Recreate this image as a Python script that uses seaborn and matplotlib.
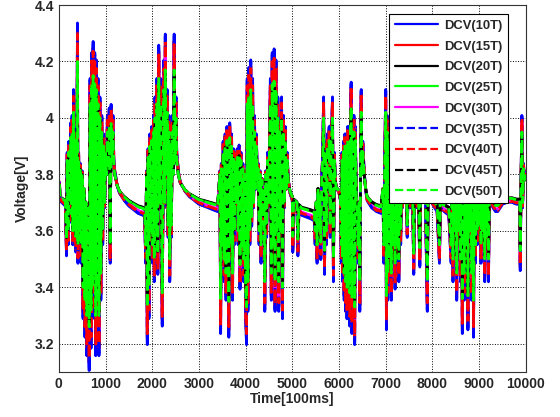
import matplotlib
matplotlib.use("Agg")
import matplotlib.pyplot as plt
import seaborn as sns
import numpy as np
import pandas as pd

# base (DCV 25T) voltage: time [100ms] / voltage [V]
t_pts = [
    0, 15, 25, 60, 100, 140,
    165, 180, 200, 215, 240, 255, 270, 285, 300, 315, 330, 350, 365, 385,
    400, 410, 425, 445, 460, 480, 500, 520, 540, 560, 580, 600, 620, 650,
    670, 690, 705, 720, 735, 750, 770, 790, 805, 820, 840, 860, 880, 900,
    920, 940, 960, 980, 1000, 1020, 1040, 1060, 1080, 1100, 1120, 1140,
    1160, 1180,
    1200, 1250, 1300, 1400, 1500, 1600, 1700, 1800, 1840,
    1860, 1880, 1895, 1910, 1930, 1950, 1970, 1990, 2010, 2030, 2045, 2060,
    2080, 2100, 2120, 2140, 2160, 2180, 2200, 2215, 2235, 2250, 2265, 2280,
    2300, 2320, 2340, 2360, 2375, 2395, 2410, 2430, 2450, 2470, 2490, 2510,
    2525,
    2560, 2600, 2700, 2800, 2900, 3000, 3100, 3200, 3300, 3400,
    3450, 3465, 3480, 3500, 3520, 3540, 3560, 3580, 3600, 3620, 3640, 3660,
    3680, 3700, 3720, 3740, 3760, 3780, 3800, 3820, 3840, 3860, 3880, 3900,
    3920, 3940, 3960, 3980, 4000, 4020, 4035, 4050, 4070, 4090, 4110, 4130,
    4150, 4170, 4190, 4210, 4230, 4250, 4270, 4290, 4310, 4330, 4350, 4370,
    4390, 4410, 4430, 4450, 4470, 4490, 4510, 4530, 4550, 4570, 4590, 4610,
    4630, 4650, 4670, 4690, 4710, 4730, 4750, 4770, 4790, 4810, 4830, 4850,
    4870, 4890, 4910,
    4950, 5000, 5010, 5030, 5100, 5120, 5140, 5200, 5300, 5400, 5470,
    5490, 5510, 5530, 5550, 5570, 5590, 5610, 5630, 5650, 5670, 5690, 5710,
    5730, 5750, 5770, 5790, 5810, 5830, 5850, 5860, 5880, 5900, 5920, 5940,
    5960, 6000, 6030,
    6050, 6065, 6080, 6095, 6110, 6125, 6140, 6155, 6170, 6185, 6200, 6215,
    6230, 6245, 6260, 6275, 6290, 6305, 6320, 6335, 6350, 6370, 6390, 6410,
    6430, 6445, 6460, 6475, 6490, 6510, 6530, 6550, 6570,
    6600, 6700, 6800, 6900,
    6940, 6960, 6980, 7000, 7015, 7030, 7045, 7060, 7080, 7100, 7120, 7140,
    7160, 7180, 7200, 7220, 7240, 7260, 7280, 7300, 7320, 7340, 7360, 7380,
    7400, 7430, 7460, 7500, 7530, 7560, 7600, 7620, 7650, 7680, 7700, 7730,
    7750, 7780, 7810, 7850, 7890, 7910, 7940, 7970, 8000,
    8050, 8100, 8150, 8170, 8250, 8350,
    8400, 8420, 8440, 8460, 8480, 8500, 8520, 8540, 8560, 8580, 8600, 8620,
    8640, 8660, 8680, 8700, 8720, 8740, 8760, 8780, 8800, 8820, 8840, 8860,
    8880, 8900, 8920, 8940, 8960, 8980, 9000, 9020, 9040, 9060, 9080, 9100,
    9120, 9140, 9160, 9180, 9200, 9220, 9240,
    9300, 9350, 9400, 9450, 9500, 9600, 9700, 9800, 9870, 9880, 9900, 9915,
    9930, 9950, 9970, 10000,
]
v_pts = [
    3.73, 3.77, 3.72, 3.715, 3.71, 3.705,
    3.57, 3.85, 3.60, 3.88, 3.70, 3.93, 3.66, 3.95, 3.60, 4.02, 3.62, 3.92, 3.58, 3.80,
    4.20, 3.55, 3.85, 3.60, 3.82, 3.55, 3.80, 3.40, 3.75, 3.35, 3.70, 3.30, 3.68, 3.26,
    4.05, 3.32, 4.12, 3.40, 4.15, 3.45, 4.12, 3.30, 4.10, 3.35, 4.05, 3.30, 4.00, 3.45,
    3.95, 3.60, 3.90, 3.70, 3.88, 3.80, 3.95, 3.82, 3.97, 3.55, 3.98, 3.85,
    3.95, 3.82,
    3.80, 3.76, 3.74, 3.72, 3.705, 3.695, 3.685, 3.68, 3.675,
    3.55, 3.80, 3.33, 3.86, 3.40, 3.90, 3.60, 3.92, 3.55, 3.95, 3.50, 4.00,
    3.60, 4.05, 3.52, 4.14, 3.70, 4.05, 3.62, 3.38, 3.85, 4.10, 3.70, 4.17,
    3.80, 4.02, 3.62, 3.95, 3.50, 3.90, 3.62, 3.95, 3.80, 4.17, 3.85, 4.00,
    3.85,
    3.80, 3.77, 3.745, 3.73, 3.72, 3.71, 3.705, 3.70, 3.695, 3.69,
    3.80, 3.36, 3.82, 3.55, 3.88, 3.50, 3.90, 3.45, 3.92, 3.60, 3.35, 3.93,
    3.55, 3.90, 3.45, 3.86, 3.60, 3.85, 3.70, 3.86, 3.60, 3.87, 3.48, 3.85,
    3.55, 3.82, 3.50, 3.80, 3.40, 3.33, 4.05, 3.42, 4.08, 3.60, 4.10, 3.65,
    4.05, 3.70, 3.95, 3.75, 3.90, 3.78, 3.82, 3.60, 3.80, 3.55, 3.78, 3.65,
    3.75, 3.42, 3.80, 3.62, 3.85, 3.70, 3.88, 4.05, 3.45, 4.12, 3.55, 4.13,
    3.42, 4.10, 3.60, 4.00, 3.42, 3.95, 3.60, 4.00, 3.40, 3.95, 3.70, 3.92,
    3.75, 3.85, 3.78,
    3.74, 3.72, 3.58, 3.71, 3.70, 3.57, 3.69, 3.68, 3.675, 3.67, 3.665,
    3.60, 3.70, 3.55, 3.75, 3.60, 3.72, 3.56, 3.78, 3.85, 4.00, 3.52, 3.88,
    3.60, 3.90, 3.85, 3.92, 3.62, 3.92, 3.95, 4.00, 3.50, 3.85, 3.78, 3.75,
    3.75, 3.74, 3.72,
    3.55, 3.85, 3.50, 3.88, 3.45, 3.90, 3.42, 3.90, 3.40, 3.92, 3.40, 3.92,
    3.38, 3.95, 4.04, 3.36, 3.95, 3.40, 3.95, 3.33, 3.92, 3.70, 3.68, 3.55,
    3.70, 3.42, 3.80, 4.02, 3.80, 3.88, 3.82, 3.78, 3.75,
    3.72, 3.70, 3.69, 3.685,
    3.75, 3.55, 3.85, 4.02, 3.37, 3.95, 3.45, 3.92, 3.50, 3.90, 3.45, 3.92,
    3.55, 3.90, 3.48, 3.88, 3.55, 3.85, 3.50, 3.82, 3.60, 3.80, 3.70, 3.78,
    3.76, 3.85, 3.62, 3.88, 3.70, 3.86, 3.52, 3.85, 3.70, 3.84, 3.72, 3.54,
    3.84, 3.72, 3.82, 3.72, 3.42, 3.80, 3.72, 3.78, 3.71,
    3.70, 3.69, 3.55, 3.70, 3.69, 3.68,
    3.55, 3.80, 3.50, 3.85, 3.60, 3.88, 3.45, 3.85, 3.60, 3.88, 3.50, 3.85,
    3.36, 3.88, 3.45, 3.85, 3.55, 3.88, 3.37, 3.85, 3.60, 3.85, 3.45, 3.88,
    3.35, 3.85, 3.55, 3.82, 3.60, 3.85, 3.62, 3.82, 3.55, 3.80, 3.60, 3.80,
    3.50, 3.78, 3.58, 3.75, 3.50, 3.74, 3.72,
    3.70, 3.69, 3.69, 3.70, 3.71, 3.715, 3.715, 3.71, 3.71, 3.53, 3.80, 3.95,
    3.70, 3.82, 3.78, 3.80,
]

labels = ["DCV(10T)", "DCV(15T)", "DCV(20T)", "DCV(25T)", "DCV(30T)",
          "DCV(35T)", "DCV(40T)", "DCV(45T)", "DCV(50T)"]
colors = ["#0000ff", "#ff0000", "#000000", "#00ff00", "#ff00ff",
          "#0000ff", "#ff0000", "#000000", "#00ff00"]
styles = ["-", "-", "-", "-", "-", "--", "--", "--", "--"]
# spread of each series around the 25T curve (gain on deviation from 3.76 V)
gains = [0.31, 0.25, -0.05, 0.0, 0.17, 0.29, 0.22, -0.03, 0.0]
v_ref = 3.76

t = np.array(t_pts)
base = np.array(v_pts)

sns.set_style("white")
plt.rcParams["font.family"] = ["Liberation Sans", "DejaVu Sans"]

fig, ax = plt.subplots(figsize=(5.6, 4.17), dpi=100)
fig.subplots_adjust(left=0.105, right=0.939, top=0.988, bottom=0.108)

for lab, col, ls, g in zip(labels, colors, styles, gains):
    v = base + g * (base - v_ref)
    sns.lineplot(x=t, y=v, ax=ax, color=col, linestyle=ls, linewidth=2.0,
                 label=lab, estimator=None, sort=False)

ax.set_xlim(0, 10000)
ax.set_ylim(3.1, 4.4)
ax.set_xticks(range(0, 10001, 1000))
ax.set_yticks([3.2, 3.4, 3.6, 3.8, 4.0, 4.2, 4.4])
ax.set_yticklabels(["3.2", "3.4", "3.6", "3.8", "4", "4.2", "4.4"])
ax.grid(True, linestyle=":", color="black", linewidth=0.7)
ax.tick_params(direction="in", length=4, labelsize=10)
for lbl in ax.get_xticklabels() + ax.get_yticklabels():
    lbl.set_fontweight("bold")
for s in ax.spines.values():
    s.set_color("#333333")
    s.set_linewidth(0.8)

ax.set_xlabel("Time[100ms]", fontsize=10, fontweight="bold", labelpad=1)
ax.set_ylabel("Voltage[V]", fontsize=10, fontweight="bold")

leg = ax.legend(loc="upper right", bbox_to_anchor=(0.97, 0.985), fancybox=False,
                framealpha=1, edgecolor="black", handlelength=3.3,
                prop={"weight": "bold", "size": 9.4}, labelspacing=0.66,
                borderaxespad=0.3, handletextpad=0.5, borderpad=0.4)
leg.get_frame().set_linewidth(0.8)
for line in leg.get_lines():
    line.set_linewidth(1.6)

fig.savefig("out.png", dpi=100)
